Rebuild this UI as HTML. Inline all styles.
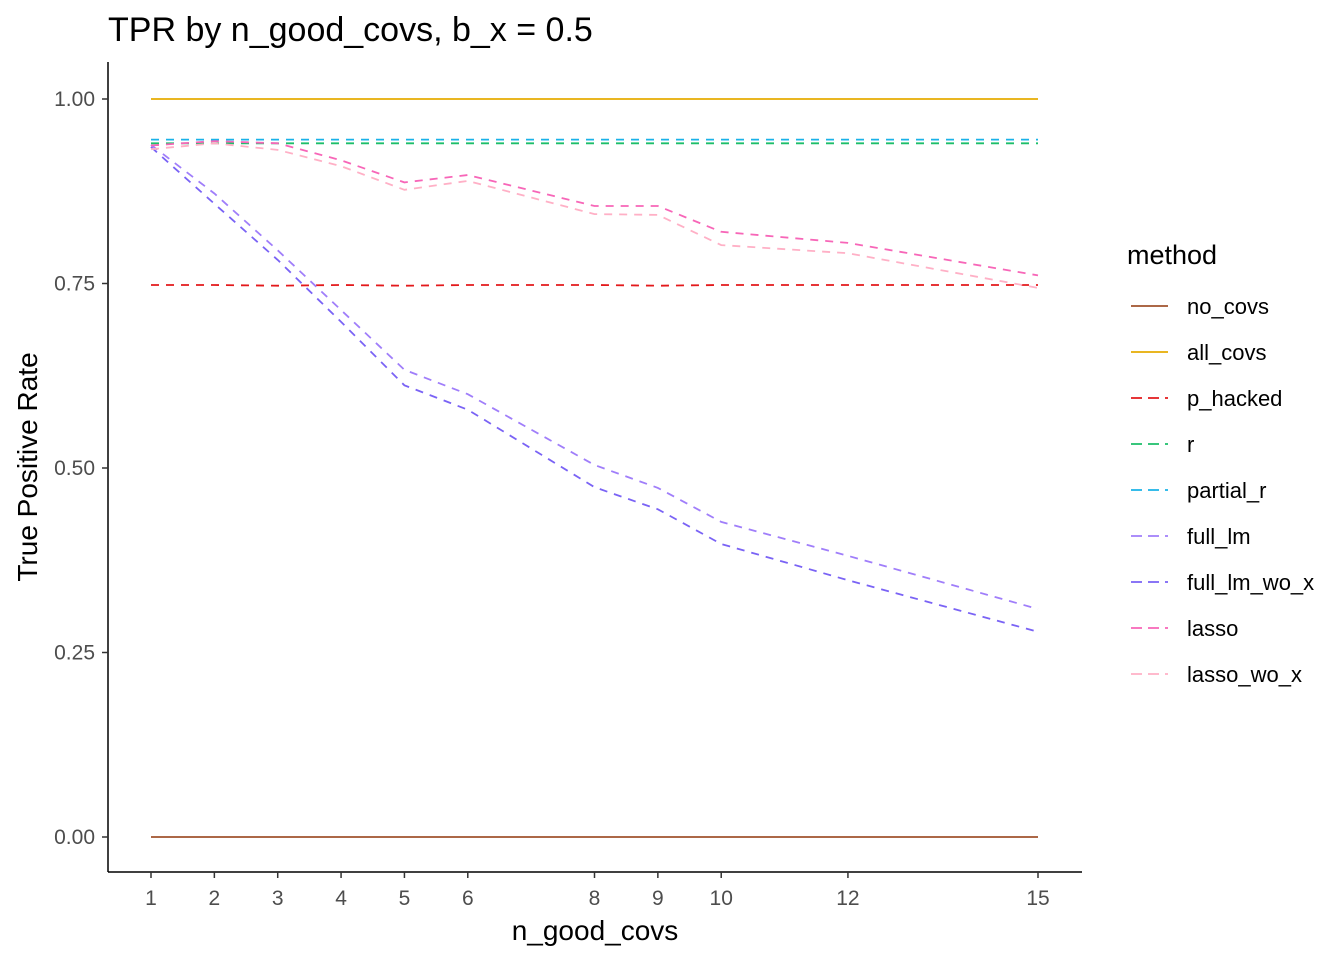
<!DOCTYPE html>
<html><head><meta charset="utf-8"><style>
body{margin:0;background:#fff;}
svg text{font-family:"Liberation Sans",Arial,sans-serif;}
</style></head><body>
<svg width="1344" height="960" xmlns="http://www.w3.org/2000/svg">
<rect width="1344" height="960" fill="#fff"/>
<text x="108" y="41" font-size="34" fill="#000">TPR by n_good_covs, b_x = 0.5</text>
<g id="plot"></g>
<g id="axes"></g>
<g id="legend"></g>
</svg>
<script>
const xs = [1,2,3,4,5,6,8,9,10,12,15];
const xTicks = [1,2,3,4,5,6,8,9,10,12,15];
const yTicks = [0,0.25,0.5,0.75,1];
const yTickLabels = ["0.00","0.25","0.50","0.75","1.00"];
const seriesNames = ["no_covs","all_covs","p_hacked","r","partial_r","full_lm","full_lm_wo_x","lasso","lasso_wo_x"];
const noCovs = [0,0,0,0,0,0,0,0,0,0,0];
const allCovs = [1,1,1,1,1,1,1,1,1,1,1];
const pHacked = [0.748,0.748,0.747,0.748,0.747,0.748,0.748,0.747,0.748,0.748,0.748];
const rVals = [0.940,0.940,0.940,0.940,0.940,0.940,0.940,0.940,0.940,0.940,0.940];
const partialR = [0.945,0.945,0.945,0.945,0.945,0.945,0.945,0.945,0.945,0.945,0.945];
const fullLm = [0.938,0.872,0.795,0.714,0.633,0.600,0.504,0.473,0.427,0.381,0.309];
const fullLmWoX = [0.935,0.858,0.782,0.698,0.612,0.579,0.474,0.444,0.397,0.348,0.278];
const lasso = [0.937,0.943,0.940,0.917,0.887,0.897,0.855,0.855,0.820,0.805,0.761];
const lassoWoX = [0.932,0.940,0.931,0.909,0.877,0.889,0.844,0.843,0.802,0.791,0.744];
const seriesVals = [noCovs,allCovs,pHacked,rVals,partialR,fullLm,fullLmWoX,lasso,lassoWoX];
const colors = ["#A0522D","#E6AB02","#E31A1C","#1DBE6A","#1AB2E8","#A07EFA","#7A63F5","#F766B8","#FFB0C6"];
const dashed = [false,false,true,true,true,true,true,true,true];

const NS="http://www.w3.org/2000/svg";
const X = v => 151 + (v-1)*(1038-151)/14;
const Y = v => 837 - v*738;
function mk(tag, attrs, parent){const e=document.createElementNS(NS,tag);for(const k in attrs)e.setAttribute(k,attrs[k]);parent.appendChild(e);return e;}
const plot=document.getElementById('plot'), axes=document.getElementById('axes'), leg=document.getElementById('legend');

seriesVals.forEach((vals,i)=>{
  const d = vals.map((v,j)=>(j?'L':'M')+X(xs[j]).toFixed(1)+','+Y(v).toFixed(1)).join(' ');
  const p = mk('path',{d:d,fill:'none',stroke:colors[i],'stroke-width':1.8},plot);
  if(dashed[i]) p.setAttribute('stroke-dasharray','8 7');
  
  
});

mk('line',{x1:108,y1:62,x2:108,y2:872,stroke:'#000','stroke-width':1.5},axes);
mk('line',{x1:108,y1:872,x2:1082,y2:872,stroke:'#000','stroke-width':1.5},axes);
yTicks.forEach((v,i)=>{
  mk('line',{x1:102,y1:Y(v),x2:108,y2:Y(v),stroke:'#333','stroke-width':1.5},axes);
  const t=mk('text',{x:95,y:Y(v)+7,'font-size':21,fill:'#4d4d4d','text-anchor':'end'},axes);
  t.textContent=yTickLabels[i];
  
  
});
xTicks.forEach(v=>{
  mk('line',{x1:X(v),y1:872,x2:X(v),y2:878,stroke:'#333','stroke-width':1.5},axes);
  const t=mk('text',{x:X(v),y:905,'font-size':21,fill:'#4d4d4d','text-anchor':'middle'},axes);
  t.textContent=String(v);
  
  
});
const xt=mk('text',{x:595,y:940,'font-size':28,fill:'#000','text-anchor':'middle'},axes);
xt.textContent='n_good_covs';


const yt=mk('text',{x:37,y:467,'font-size':28,fill:'#000','text-anchor':'middle',transform:'rotate(-90 37 467)'},axes);
yt.textContent='True Positive Rate';



const lt=mk('text',{x:1127,y:264,'font-size':27,fill:'#000'},leg);
lt.textContent='method';


seriesNames.forEach((n,i)=>{
  const y=306+i*46;
  const l=mk('line',{x1:1131,y1:y,x2:1168,y2:y,stroke:colors[i],'stroke-width':1.8},leg);
  if(dashed[i]) l.setAttribute('stroke-dasharray','11 6');
  
  
  const t=mk('text',{x:1187,y:y+8,'font-size':22,fill:'#000'},leg);
  t.textContent=n;
  
  
});
</script>
</body></html>
